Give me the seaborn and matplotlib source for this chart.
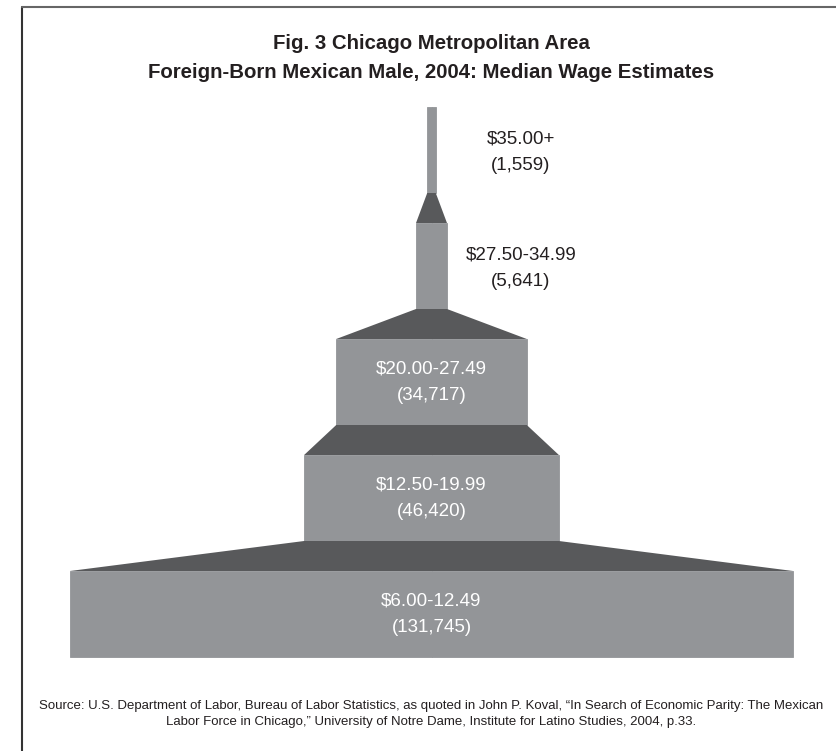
import numpy as np
import pandas as pd
import matplotlib
matplotlib.use("Agg")
import matplotlib.pyplot as plt
from matplotlib.lines import Line2D
import seaborn as sns

# Wage bands from the top of the pyramid down, with worker counts
wage_bands = ["$35.00+", "$27.50-34.99", "$20.00-27.49", "$12.50-19.99", "$6.00-12.49"]
workers = [1559, 5641, 34717, 46420, 131745]
count_labels = ["(1,559)", "(5,641)", "(34,717)", "(46,420)", "(131,745)"]

title = ("Fig. 3 Chicago Metropolitan Area\n"
         "Foreign-Born Mexican Male, 2004: Median Wage Estimates")
source = ("Source: U.S. Department of Labor, Bureau of Labor Statistics, as quoted in John P. Koval, "
          "\u201cIn Search of Economic Parity: The Mexican\n"
          "Labor Force in Chicago,\u201d University of Notre Dame, Institute for Latino Studies, 2004, p.33.")

# Page layout in pixels
W, H = 836, 751
CENTER_X = 431.5            # horizontal axis of the pyramid
PX_PER_WORKER = 723 / 131745
ROW_TOP, ROW_STEP, BAR_PX = 150, 116, 86   # first row centre, row pitch, bar thickness

BAR_COLOR = "#939598"
STEP_COLOR = "#58595b"
TEXT_DARK = "#231f20"

sns.set_style("white")
plt.rcParams["font.family"] = ["Liberation Sans Narrow", "DejaVu Sans Condensed",
                               "Liberation Sans", "DejaVu Sans"]

fig = plt.figure(figsize=(W / 100, H / 100), dpi=100)
fig.patch.set_facecolor("white")

n = len(workers)
ax_top_px = ROW_TOP - ROW_STEP / 2
ax_bot_px = ROW_TOP + (n - 0.5) * ROW_STEP
ax = fig.add_axes([0, 1 - ax_bot_px / H, 1, (ax_bot_px - ax_top_px) / H])

half = np.array(workers) / 2
df = pd.DataFrame({"band": wage_bands * 2,
                   "extent": np.concatenate([half, -half]),
                   "side": ["right"] * n + ["left"] * n})

bar_width = BAR_PX / ROW_STEP
for side in ["right", "left"]:
    sns.barplot(data=df[df["side"] == side], x="extent", y="band", order=wage_bands,
                orient="h", color=BAR_COLOR, saturation=1, width=bar_width,
                edgecolor=BAR_COLOR, linewidth=0.6, errorbar=None, ax=ax)

# Dark steps joining each bar to the wider one below it
for i in range(n - 1):
    upper, lower = half[i], half[i + 1]
    y0, y1 = i + bar_width / 2, i + 1 - bar_width / 2
    ax.fill([-upper, upper, lower, -lower], [y0, y0, y1, y1],
            color=STEP_COLOR, linewidth=0)

ax.set_xlim(-CENTER_X / PX_PER_WORKER, (W - CENTER_X) / PX_PER_WORKER)
ax.set_ylim(n - 0.5, -0.5)
ax.set_axis_off()

# Labels: beside the two thin bars, inside the three wide ones
outside_x = (521 - CENTER_X) / PX_PER_WORKER
for i, (band, cnt) in enumerate(zip(wage_bands, count_labels)):
    if i < 2:
        ax.text(outside_x, i + 0.02, f"{band}\n{cnt}", ha="center", va="center",
                color=TEXT_DARK, fontsize=13.5, linespacing=1.7)
    else:
        ax.text(0, i, f"{band}\n{cnt}", ha="center", va="center",
                color="white", fontsize=13.5, linespacing=1.7)

fig.text(CENTER_X / W, 1 - 58 / H, title, ha="center", va="center",
         fontsize=14.7, fontweight="bold", color=TEXT_DARK, linespacing=1.62)

fig.text(CENTER_X / W, 1 - 714 / H, source, ha="center", va="center",
         fontsize=9.5, color=TEXT_DARK, linespacing=1.55)

# Frame lines along the left and top edges
fig.add_artist(Line2D([22 / W, 22 / W], [0, 1 - 7 / H], color="#333333",
                      linewidth=1.5, transform=fig.transFigure))
fig.add_artist(Line2D([22 / W, 1], [1 - 7 / H, 1 - 7 / H], color="#666666",
                      linewidth=1.5, transform=fig.transFigure))

fig.savefig("out.png", dpi=100)
